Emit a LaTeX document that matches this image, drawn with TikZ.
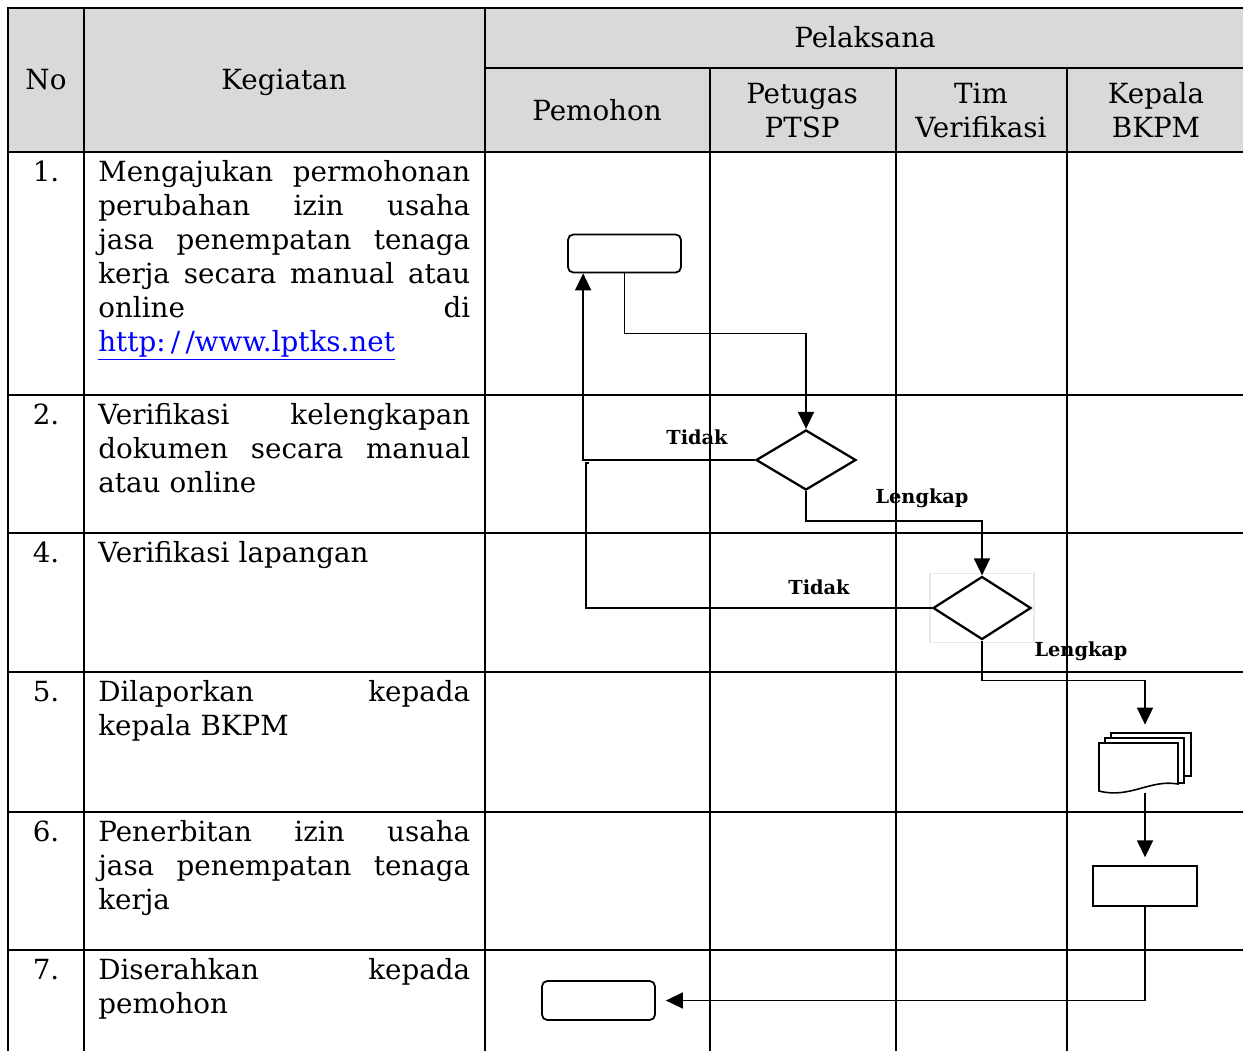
\documentclass[tikz,border=0pt]{standalone}
\usepackage{fontspec}
\setmainfont{DejaVu Serif}
\usetikzlibrary{calc,positioning,arrows.meta,shapes.geometric}
\newlength\kegw
\setlength\kegw{7.44cm}
\newcommand\cellfont{\fontsize{15.8}{19.35}\selectfont}
\newcommand\firstup{\rule{0pt}{0.5cm}}
\newcommand\jline[1]{\makebox[\kegw][l]{#1}\\}
\definecolor{headgrey}{RGB}{217,217,217}
\definecolor{faintbox}{RGB}{236,232,222}
\definecolor{urlblue}{RGB}{0,0,255}
\tikzset{
>={Triangle[length=0.34cm,width=0.32cm]},
  grid/.style={draw=black, line width=1.1pt},
  head/.style={font=\cellfont, align=center, inner sep=0pt},
  nocol/.style={font=\cellfont, anchor=north, inner sep=0pt},
  kegcell/.style={
    font=\cellfont,
    anchor=north west,
    inner sep=0pt,
    text width=\kegw,
    align=left},
  rbox/.style={
    rectangle,
    rounded corners=3pt,
    draw=black, line width=1pt,
    minimum width=2.26cm,
    minimum height=0.76cm,
    inner sep=0pt},
  pbox/.style={
    rectangle,
    draw=black, line width=0.8pt,
    minimum width=2.08cm,
    minimum height=0.8cm,
    inner sep=0pt},
  decision/.style={
    diamond,
    draw=black, line width=1.3pt,
    inner sep=0pt,
    minimum width=2cm,
    minimum height=1.2cm},
  flow/.style={draw, line width=0.9pt},
  branch/.style={font=\fontsize{11}{13}\selectfont\bfseries, inner sep=0pt},
}

\begin{document}
\begin{tikzpicture}[x=0.02cm, y=-0.02cm]
  \useasboundingbox (0,0) rectangle (1243,1051);
  %% the table
  \fill[headgrey] (8,8) rectangle (1243,152);
  \draw[grid] (1243,8) -- (8,8) -- (8,1051);
  \foreach \x in {84,485}
    \draw[grid] (\x,8) -- (\x,1051);
  \foreach \x in {710,896,1067}
    \draw[grid] (\x,68) -- (\x,1051);
  \draw[grid] (485,68) -- (1243,68);
  \foreach \y in {152,395,533,672,812,950}
    \draw[grid] (8,\y) -- (1243,\y);
  %% header
  \node[head, anchor=base] (no) at (46,90) {No};
  \node[head, anchor=base] (keg) at (284,90) {Kegiatan};
  \node[head, anchor=base] (pel) at (865,48) {Pelaksana};
  \node[head, anchor=base] (pem) at (597,120) {Pemohon};
  \node[head, anchor=north] (ptsp) at (802,78) {\firstup Petugas\\PTSP};
  \node[head, anchor=north] (tim) at (981,78) {\firstup Tim\\Verifikasi};
  \node[head, anchor=north] (bkpm) at (1156,78) {\firstup Kepala\\BKPM};
  %% numbers
  \foreach \t/\n in {152/1., 395/2., 533/4., 672/5., 812/6., 950/7.}
    \node[nocol] (num-\t) at (46,\t+4) {\firstup\n};
  %% activities
  \node[kegcell] (keg1) at (98,156) {\noindent\firstup\jline{Mengajukan\hfill permohonan}%
    \jline{perubahan\hfill izin\hfill usaha}\jline{jasa\hfill penempatan\hfill tenaga}%
    \jline{kerja\hfill secara\hfill manual\hfill atau}\jline{online\hfill di}%
    \textcolor{urlblue}{\underline{http:\kern3pt/\kern3pt/www.lptks.net}}};
  \node[kegcell] (keg2) at (98,399) {\noindent\firstup\jline{Verifikasi\hfill kelengkapan}%
    \jline{dokumen\hfill secara\hfill manual}atau online};
  \node[kegcell] (keg4) at (98,537) {\noindent\firstup Verifikasi lapangan};
  \node[kegcell] (keg5) at (98,676) {\noindent\firstup\jline{Dilaporkan\hfill kepada}kepala BKPM};
  \node[kegcell] (keg6) at (98,816) {\noindent\firstup\jline{Penerbitan\hfill izin\hfill usaha}%
    \jline{jasa\hfill penempatan\hfill tenaga}kerja};
  \node[kegcell] (keg7) at (98,954) {\noindent\firstup\jline{Diserahkan\hfill kepada}pemohon};
  %% flow
  \node[rbox] (mulai) at (624.5,253.5) {};
  \node[decision] (cek) at (806,460) {};
  \node[decision, minimum width=1.96cm, minimum height=1.26cm] (lapangan) at (982,608) {};
  \draw[faintbox, line width=0.8pt] ($(lapangan.west|-lapangan.north)+(-2,-2)$) rectangle ($(lapangan.east|-lapangan.south)+(2,2)$);
  \node[minimum width=1.84cm, minimum height=1.2cm, inner sep=0pt] (laporan) at (1145,763) {};
  \begin{scope}[shift={(laporan.center)}, line width=0.9pt]
    \draw[fill=white] (-34,-30) rectangle (46,13);
    \draw[fill=white] (-40,-25) rectangle (39,20);
    \draw[fill=white] (-46,-20) -- (33,-20) -- (33,21)
      .. controls (5,16) and (-15,36) .. (-46,28) -- cycle;
  \end{scope}
  \node[pbox] (izin) at (1145,886) {};
  \node[rbox, minimum height=0.78cm] (serah) at (598.5,1000.5) {};
  \coordinate (balik) at (586,463);

  \draw[flow, ->] (mulai.south) -- ++(0,60) -| (cek.north);
  \draw[flow, ->] (cek.west) -| ($(mulai.south west)+(16,0)$);
  \draw[flow, ->] (cek.south) -- ++(0,30) -| (lapangan.north);
  \draw[flow] (lapangan.west) -| (balik) -- ++(3,0);
  \draw[flow, ->, shorten >=0.16cm] (lapangan.south) -- ++(0,40) -| (laporan.north);
  \draw[flow, ->, shorten >=0.16cm] (laporan.south) -- (izin.north);
  \draw[flow, ->, shorten >=0.2cm] (izin.south) |- (serah.east);

  \node[branch] (tidak1) at (697,437) {Tidak};
  \node[branch] (lengkap1) at (922,498) {Lengkap};
  \node[branch] (tidak2) at (819,587) {Tidak};
  \node[branch] (lengkap2) at (1081,651) {Lengkap};
\end{tikzpicture}
\end{document}
